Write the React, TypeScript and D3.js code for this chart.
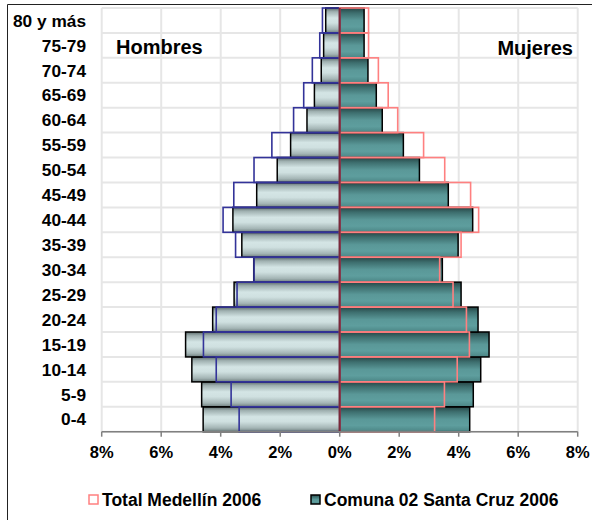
import React from "react";
import * as d3 from "d3";

const categories = ["0-4", "5-9", "10-14", "15-19", "20-24", "25-29", "30-34", "35-39", "40-44", "45-49", "50-54", "55-59", "60-64", "65-69", "70-74", "75-79", "80 y más"];
const hombresComuna = [4.59, 4.64, 4.97, 5.18, 4.27, 3.55, 2.89, 3.29, 3.59, 2.79, 2.10, 1.65, 1.10, 0.85, 0.62, 0.54, 0.47];
const hombresMedellin = [3.38, 3.65, 4.15, 4.58, 4.15, 3.45, 2.88, 3.50, 3.92, 3.56, 2.88, 2.28, 1.55, 1.21, 0.92, 0.67, 0.58];
const mujeresComuna = [4.37, 4.49, 4.74, 5.02, 4.65, 4.08, 3.45, 3.98, 4.47, 3.65, 2.68, 2.14, 1.43, 1.23, 0.95, 0.82, 0.82];
const mujeresMedellin = [3.19, 3.52, 3.95, 4.36, 4.26, 3.81, 3.36, 4.08, 4.67, 4.40, 3.53, 2.82, 1.95, 1.63, 1.30, 0.97, 0.97];
const tickValues = [-8, -6, -4, -2, 0, 2, 4, 6, 8];
const legendLabels = ["Total Medellín 2006", "Comuna 02 Santa Cruz 2006"];

const W = 592;
const H = 520;
const FONT = "'Liberation Sans', Arial, Helvetica, sans-serif";

export default function App() {
  const x = d3.scaleLinear().domain([-8, 8]).range([101.7, 577.7]);
  const y = d3
    .scaleBand<string>()
    .domain([...categories].reverse())
    .range([8, 431.7])
    .padding(0);
  const bw = y.bandwidth();
  const x0 = x(0);
  const top = y.range()[0];
  const bottom = y.range()[1];
  const bandEdges = [...categories.map((c) => y(c) as number), bottom];

  return (
    <svg
      width={W}
      height={H}
      style={{ position: "absolute", left: 0, top: 0, background: "#fff" }}
      fontFamily={FONT}
    >
      <defs>
        <linearGradient id="gH" x1="0" y1="0" x2="0" y2="1">
          <stop offset="0%" stopColor="#5c6b6b" />
          <stop offset="15%" stopColor="#9fb0b0" />
          <stop offset="40%" stopColor="#d4e5e5" />
          <stop offset="60%" stopColor="#cfe0e0" />
          <stop offset="85%" stopColor="#a4b5b5" />
          <stop offset="100%" stopColor="#6d7d7d" />
        </linearGradient>
        <linearGradient id="gM" x1="0" y1="0" x2="0" y2="1">
          <stop offset="0%" stopColor="#264545" />
          <stop offset="20%" stopColor="#3d6e6e" />
          <stop offset="50%" stopColor="#5a9898" />
          <stop offset="75%" stopColor="#5e9e9e" />
          <stop offset="100%" stopColor="#4b8585" />
        </linearGradient>
      </defs>
      <rect x={0} y={0} width={W} height={H} fill="#fff" />
      {/* outer frame */}
      <path d={`M7.5,${H} V4.5 H${W}`} fill="none" stroke="#222" strokeWidth={1} />

      {/* grid */}
      {tickValues.map((t) => (
        <line key={"gv" + t} x1={x(t)} x2={x(t)} y1={top} y2={bottom} stroke="#e6e6e6" strokeWidth={2} />
      ))}
      {bandEdges.map((e, i) => (
        <line key={"gh" + i} x1={x(-8)} x2={x(8)} y1={e} y2={e} stroke="#e6e6e6" strokeWidth={2} />
      ))}

      {/* comuna bars */}
      {categories.map((c, i) => (
        <rect
          key={"hc" + c}
          x={x(-hombresComuna[i])}
          y={y(c) as number}
          width={x0 - x(-hombresComuna[i])}
          height={bw}
          fill="url(#gH)"
          stroke="#000"
          strokeWidth={1.5}
        />
      ))}
      {categories.map((c, i) => (
        <rect
          key={"mc" + c}
          x={x0}
          y={y(c) as number}
          width={x(mujeresComuna[i]) - x0}
          height={bw}
          fill="url(#gM)"
          stroke="#000"
          strokeWidth={1.5}
        />
      ))}
      {/* medellin outlines */}
      {categories.map((c, i) => (
        <rect
          key={"hm" + c}
          x={x(-hombresMedellin[i])}
          y={y(c) as number}
          width={x0 - x(-hombresMedellin[i])}
          height={bw}
          fill="none"
          stroke="#333399"
          strokeWidth={1.6}
        />
      ))}
      {categories.map((c, i) => (
        <rect
          key={"mm" + c}
          x={x0}
          y={y(c) as number}
          width={x(mujeresMedellin[i]) - x0}
          height={bw}
          fill="none"
          stroke="#ff8080"
          strokeWidth={1.6}
        />
      ))}
      {/* center line */}
      <line x1={x0} x2={x0} y1={top} y2={bottom} stroke="#7a2a3a" strokeWidth={2} />

      {/* category labels */}
      {categories.map((c) => (
        <text
          key={"cl" + c}
          x={86}
          y={(y(c) as number) + bw / 2}
          dy="0.36em"
          textAnchor="end"
          fontSize={17.3}
          fontWeight="bold"
          fill="#000"
        >
          {c}
        </text>
      ))}

      {/* x axis */}
      <line x1={x(-8)} x2={x(8)} y1={bottom} y2={bottom} stroke="#808080" strokeWidth={1.5} />
      {tickValues.map((t) => (
        <g key={"t" + t}>
          <line x1={x(t)} x2={x(t)} y1={bottom} y2={bottom + 5} stroke="#808080" strokeWidth={1.5} />
          <text x={x(t)} y={458} textAnchor="middle" fontSize={16.5} fontWeight="bold" fill="#000">
            {Math.abs(t) + "%"}
          </text>
        </g>
      ))}

      {/* side titles */}
      <text x={116} y={54} fontSize={20} fontWeight="bold" fill="#000">Hombres</text>
      <text x={573} y={55} textAnchor="end" fontSize={20} fontWeight="bold" fill="#000">Mujeres</text>

      {/* legend */}
      <rect x={89} y={495} width={9} height={9} fill="#fff" stroke="#ff8080" strokeWidth={1.5} />
      <text x={102} y={506} fontSize={17.5} fontWeight="bold" fill="#000">{legendLabels[0]}</text>
      <rect x={311} y={495} width={9} height={9} fill="url(#gM)" stroke="#000" strokeWidth={1.5} />
      <text x={324} y={506} fontSize={17.5} fontWeight="bold" fill="#000">{legendLabels[1]}</text>
    </svg>
  );
}
